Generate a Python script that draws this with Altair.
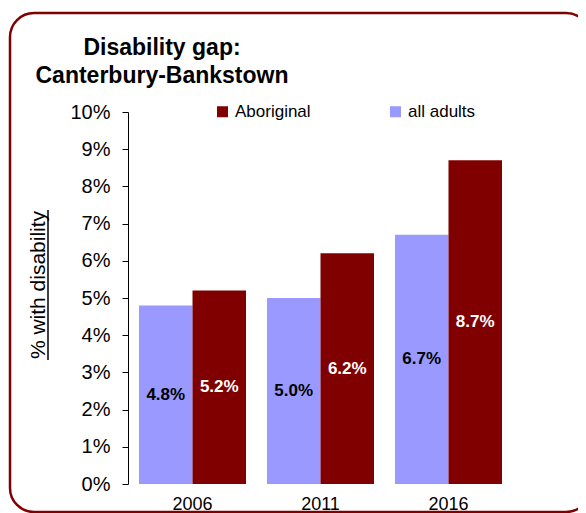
import altair as alt
import pandas as pd

YEARS = ["2006", "2011", "2016"]
SERIES = ["all adults", "Aboriginal"]
LEGEND_ORDER = ["Aboriginal", "all adults"]
ALL_ADULTS = [4.8, 5.0, 6.7]
ABORIGINAL = [5.2, 6.2, 8.7]
Y_TICKS = list(range(0, 11))
TITLE_LINES = ["Disability gap:", "Canterbury-Bankstown"]
Y_TITLE = "% with disability"
COLORS = ["#800000", "#9999FF"]

rows = []
for i, yr in enumerate(YEARS):
    rows.append({"year": yr, "series": "all adults", "value": ALL_ADULTS[i]})
    rows.append({"year": yr, "series": "Aboriginal", "value": ABORIGINAL[i]})
df = pd.DataFrame(rows)

FONT = "Liberation Sans"

x_enc = alt.X(
    "year:N", sort=YEARS,
    scale=alt.Scale(paddingInner=0.164, paddingOuter=0.086),
    axis=alt.Axis(title=None, labelAngle=0, domain=False, ticks=False,
                  labelFontSize=18, labelPadding=11, labelColor="black",
                  labelFont=FONT),
)
xoff_enc = alt.XOffset("series:N", sort=SERIES,
                       scale=alt.Scale(domain=SERIES, paddingInner=0, paddingOuter=0))
y_scale = alt.Scale(domain=[0, 10], nice=False)
y_axis = alt.Axis(values=Y_TICKS, labelExpr="datum.value + '%'",
                  labelOverlap=False, tickCount=11,
                  title=None, grid=False, tickSize=6, tickColor="black",
                  domainColor="black", labelFontSize=20, labelPadding=12,
                  labelColor="black", labelFont=FONT)

base = alt.Chart(df)

bars = base.mark_bar().encode(
    x=x_enc,
    xOffset=xoff_enc,
    y=alt.Y("value:Q", scale=y_scale, axis=y_axis),
    color=alt.Color("series:N",
                    scale=alt.Scale(domain=LEGEND_ORDER, range=COLORS),
                    legend=alt.Legend(title=None, orient="none", direction="horizontal",
                                      legendX=86, legendY=-9, symbolType="square",
                                      symbolSize=121, symbolStrokeWidth=0,
                                      labelFontSize=17, labelFont=FONT,
                                      labelColor="black", columnPadding=76,
                                      labelOffset=4, padding=0)),
)

labels = base.transform_calculate(
    mid="datum.value / 2",
    label="format(datum.value, '.1f') + '%'",
).mark_text(fontSize=17, fontWeight="bold", baseline="middle", font=FONT).encode(
    x=x_enc,
    xOffset=xoff_enc,
    y=alt.Y("mid:Q", scale=y_scale, axis=y_axis),
    text="label:N",
    color=alt.condition("datum.series == 'Aboriginal'", alt.value("white"), alt.value("black")),
)

one = alt.Data(values=[{"k": 0}])

title = alt.Chart(one).mark_text(
    fontSize=23, fontWeight="bold", align="center", baseline="alphabetic",
    lineHeight=28, font=FONT, color="black",
).encode(x=alt.value(34), y=alt.value(-57), text=alt.value(TITLE_LINES))

ytitle = alt.Chart(one).mark_text(
    fontSize=21, angle=270, align="center", baseline="alphabetic", font=FONT, color="black",
).encode(x=alt.value(-83), y=alt.value(173), text=alt.value(Y_TITLE))

underline = alt.Chart(one).mark_rule(color="black", strokeWidth=1.5).encode(
    x=alt.value(-80), y=alt.value(98), y2=alt.value(248))

border = alt.Chart(one).mark_rect(
    cornerRadius=24, fillOpacity=0, stroke="#800000", strokeWidth=2.5,
).encode(x=alt.value(-118), x2=alt.value(462), y=alt.value(-99), y2=alt.value(400))

chart = alt.layer(border, bars, labels, title, ytitle, underline).properties(
    width=385, height=372,
    autosize=alt.AutoSizeParams(type="none"),
    padding={"left": 120, "top": 104, "right": 65, "bottom": 29},
).configure(font=FONT).configure_view(stroke="transparent")

chart.save("out.html", embed_options={"renderer": "svg", "actions": False})
